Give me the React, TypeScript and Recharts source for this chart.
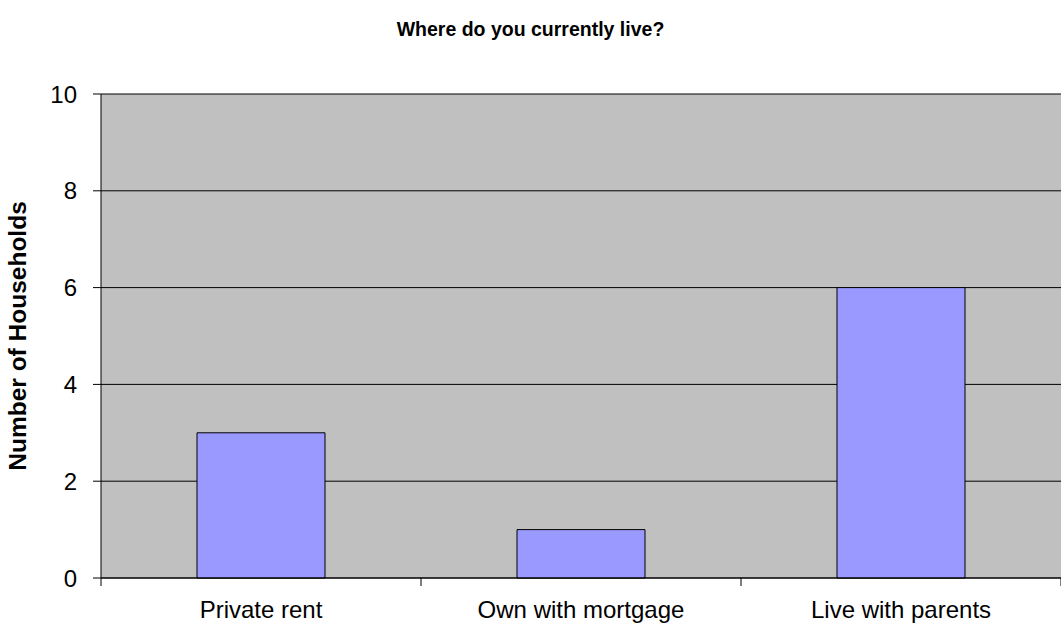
import React from "react";
import { Bar, BarChart, CartesianGrid, XAxis, YAxis } from "recharts";

const categories = ["Private rent", "Own with mortgage", "Live with parents"];
const households = [3, 1, 6];
const yTicks = [0, 2, 4, 6, 8, 10];

const data = categories.map((name, i) => ({ name, households: households[i] }));

const font = "Arial, 'Liberation Sans', sans-serif";
const X_TICK_SIZE = 8;
const X_TICK_MARGIN = 15;

// category label plus the little tick marks that sit between categories
const CategoryTick = (props: any) => {
  const { x, y, payload, index, visibleTicksCount } = props;
  const half = payload.offset || 0;
  const axisY = y - X_TICK_SIZE - X_TICK_MARGIN;
  return (
    <g>
      <line
        x1={x - half}
        x2={x - half}
        y1={axisY}
        y2={axisY + X_TICK_SIZE}
        stroke="#000"
      />
      {index === visibleTicksCount - 1 && (
        <line
          x1={x + half}
          x2={x + half}
          y1={axisY}
          y2={axisY + X_TICK_SIZE}
          stroke="#000"
        />
      )}
      <text
        x={x}
        y={y}
        dy="0.71em"
        textAnchor="middle"
        fill="#000"
        fontSize={24}
        fontFamily={font}
      >
        {payload.value}
      </text>
    </g>
  );
};

export default function App() {
  return (
    <div
      style={{
        position: "absolute",
        left: 0,
        top: 0,
        width: 1061,
        height: 630,
        background: "#fff",
        fontFamily: font,
      }}
    >
      <div
        style={{
          position: "absolute",
          top: 18,
          width: "100%",
          textAlign: "center",
          fontWeight: "bold",
          fontSize: 19.5,
          color: "#000",
        }}
      >
        Where do you currently live?
      </div>
      <BarChart
        width={1061}
        height={630}
        data={data}
        margin={{ top: 94, right: 0, bottom: 22, left: 0 }}
        barCategoryGap="30%"
      >
        <CartesianGrid
          vertical={false}
          stroke="#000"
          fill="#C0C0C0"
          fillOpacity={1}
        />
        <XAxis
          dataKey="name"
          tickLine={false}
          axisLine={{ stroke: "#000" }}
          tickSize={X_TICK_SIZE}
          tickMargin={X_TICK_MARGIN}
          tick={<CategoryTick />}
          interval={0}
        />
        <YAxis
          width={101}
          domain={[0, 10]}
          ticks={yTicks}
          interval={0}
          axisLine={{ stroke: "#000" }}
          tickLine={{ stroke: "#000" }}
          tickSize={8}
          tickMargin={16}
          tick={{ fill: "#000", fontSize: 24, fontFamily: font }}
          label={{
            value: "Number of Households",
            angle: -90,
            position: "insideLeft",
            offset: 17,
            style: {
              textAnchor: "middle",
              fontWeight: "bold",
              fontSize: 24.5,
              fill: "#000",
              fontFamily: font,
            },
          }}
        />
        <Bar
          dataKey="households"
          fill="#9999FF"
          stroke="#000"
          strokeWidth={1}
          isAnimationActive={false}
        />
      </BarChart>
    </div>
  );
}
